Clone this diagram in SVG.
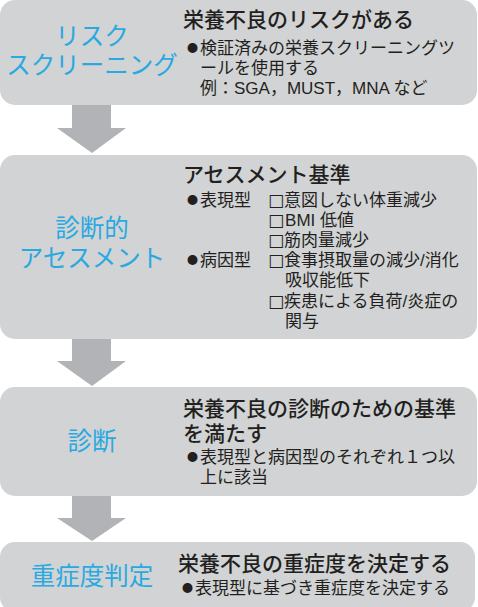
<svg xmlns="http://www.w3.org/2000/svg" width="478" height="607" viewBox="0 0 478 607">
<style>
.box{fill:#d1d3d4}
.arr{fill:#b1b3b6}
.lbl{font-family:"Liberation Sans","Noto Sans CJK JP",sans-serif;font-size:24.5px;fill:#29a9e0;text-anchor:middle}
.hd{font-family:"Liberation Sans","Noto Sans CJK JP",sans-serif;font-size:21px;font-weight:500;fill:#231f20}
.tx{font-family:"Liberation Sans","Noto Sans CJK JP",sans-serif;font-size:17px;fill:#231f20}
.bl{font-family:"Noto Sans CJK JP",sans-serif;font-size:11px;fill:#231f20}
.cb{font-family:"DejaVu Sans",sans-serif;font-size:17px}
</style>
<rect width="478" height="607" fill="#ffffff"/>
<g id="connectors">
<polygon class="arr" points="72,104 111,104 111,128 126,128 92,153 57,128 72,128"/>
<polygon class="arr" points="72,338 111,338 111,361 126,361 92,386 57,361 72,361"/>
<polygon class="arr" points="72,495 111,495 111,518 126,518 92,541 57,518 72,518"/>
</g>
<g id="node1">
<rect class="box" x="0" y="0" width="477" height="105" rx="15"/>
<text class="lbl" x="92" y="45">リスク</text>
<text class="lbl" x="92" y="74">スクリーニング</text>
<text class="hd" x="183" y="27">栄養不良のリスクがある</text>
<text class="bl" x="187" y="52">●</text>
<text class="tx" x="200" y="54">検証済みの栄養スクリーニングツ</text>
<text class="tx" x="200" y="74">ールを使用する</text>
<text class="tx" x="200" y="94">例：SGA，MUST，MNA など</text>
</g>
<g id="node2">
<rect class="box" x="0" y="155" width="477" height="184" rx="15"/>
<text class="lbl" x="92" y="237">診断的</text>
<text class="lbl" x="92" y="267">アセスメント</text>
<text class="hd" x="183" y="182">アセスメント基準</text>
<text class="bl" x="187" y="204">●</text>
<text class="tx" x="200" y="206">表現型</text>
<text class="tx" x="268" y="206"><tspan class="cb">□</tspan>意図しない体重減少</text>
<text class="tx" x="268" y="226"><tspan class="cb">□</tspan><tspan dx="1">BMI</tspan> 低値</text>
<text class="tx" x="268" y="246"><tspan class="cb">□</tspan>筋肉量減少</text>
<text class="bl" x="187" y="264">●</text>
<text class="tx" x="200" y="266">病因型</text>
<text class="tx" x="268" y="266"><tspan class="cb">□</tspan>食事摂取量の減少/消化</text>
<text class="tx" x="285" y="286">吸収能低下</text>
<text class="tx" x="268" y="307"><tspan class="cb">□</tspan>疾患による負荷/炎症の</text>
<text class="tx" x="285" y="327">関与</text>
</g>
<g id="node3">
<rect class="box" x="0" y="387" width="477" height="109" rx="15"/>
<text class="lbl" x="92" y="450">診断</text>
<text class="hd" x="183" y="416">栄養不良の診断のための基準</text>
<text class="hd" x="183" y="441">を満たす</text>
<text class="bl" x="187" y="461">●</text>
<text class="tx" x="200" y="463">表現型と病因型のそれぞれ１つ以</text>
<text class="tx" x="200" y="483">上に該当</text>
</g>
<g id="node4">
<rect class="box" x="0" y="542" width="475" height="70" rx="15"/>
<text class="lbl" x="92" y="585">重症度判定</text>
<text class="hd" x="178" y="571">栄養不良の重症度を決定する</text>
<text class="bl" x="182" y="592">●</text>
<text class="tx" x="195" y="594">表現型に基づき重症度を決定する</text>
</g>
</svg>
